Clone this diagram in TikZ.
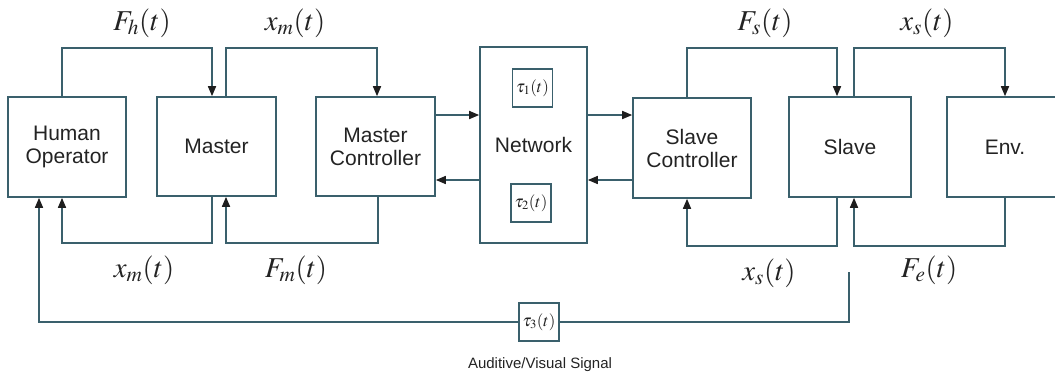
\documentclass[tikz,border=0pt]{standalone}
\usepackage{mathptmx}
\usepackage{fontspec}
\setmainfont{Liberation Sans}
\usetikzlibrary{arrows.meta}
\definecolor{ln}{RGB}{58,96,108}
\definecolor{tx}{RGB}{35,35,35}
\definecolor{ah}{RGB}{30,30,30}
\newcommand{\mylab}[1]{\scalebox{1.2}{$#1$}}
\tikzset{
  blk/.style={draw=ln, line width=1.6pt, fill=white, minimum width=#1, inner sep=0pt, align=center, text=tx, font=\fontsize{21}{23}\selectfont},
  tbox/.style={draw=ln, line width=1.6pt, fill=white, minimum width=40pt, minimum height=38pt, inner sep=0pt, text=tx, font=\fontsize{17}{19}\selectfont},
  wire/.style={ln, line width=1.6pt},
  arr/.style={wire, -{Triangle[length=10pt,width=8pt,color=ah]}},
  lab/.style={text=tx, font=\fontsize{24}{28}\selectfont, inner sep=0pt}
}
\begin{document}
\begin{tikzpicture}[x=1pt,y=-1pt]
\useasboundingbox (0,0) rectangle (1055,380);
\clip (0,0) rectangle (1055,380);
% blocks
\node[blk=118pt, minimum height=100pt] (ho) at (67,147) {Human\\Operator};
\node[blk=119pt, minimum height=99pt] (ma) at (216.5,146.5) {Master};
\node[blk=119pt, minimum height=99pt] (mc) at (375.5,146.5) {Master\\Controller};
\node[blk=107pt, minimum height=196pt] (net) at (533.5,145) {Network};
\node[tbox] (t1) at (532.5,88) {$\tau_1(t)$};
\node[tbox] (t2) at (531,203) {$\tau_2(t)$};
\node[blk=118pt, minimum height=100pt] (sc) at (692,148) {Slave\\Controller};
\node[blk=122pt, minimum height=100pt] (sl) at (850,147) {Slave};
\node[blk=116pt, minimum height=100pt] (env) at (1005,147) {Env.};
% master side loops
\draw[arr] (ho.north -| 62,0) |- (212,48) -- (ma.north -| 212,0);
\draw[arr] (ma.north -| 226,0) |- (377,48) -- (mc.north -| 377,0);
\draw[arr] (ma.south -| 212,0) |- (62,243) -- (ho.south -| 62,0);
\draw[arr] (mc.south -| 378,0) |- (226,243) -- (ma.south -| 226,0);
% network links
\draw[arr] (mc.east |- 0,115) -- (net.west |- 0,115);
\draw[arr] (net.west |- 0,180) -- (mc.east |- 0,180);
\draw[arr] (net.east |- 0,115) -- (sc.west |- 0,115);
\draw[arr] (sc.west |- 0,180) -- (net.east |- 0,180);
% slave side loops
\draw[arr] (sc.north -| 687,0) |- (837,48) -- (sl.north -| 837,0);
\draw[arr] (sl.north -| 854,0) |- (1005,48) -- (env.north);
\draw[arr] (sl.south -| 837,0) |- (687,246) -- (sc.south -| 687,0);
\draw[arr] (env.south) |- (854,246) -- (sl.south -| 854,0);
% auditive/visual feedback
\coordinate (fb) at (849,272);
\node[tbox] (t3) at (539,322) {$\tau_3(t)$};
\draw[wire] (fb) |- (t3.east);
\draw[arr] (t3.west) -| (ho.south -| 39,0);
\node[text=tx, font=\fontsize{15}{17}\selectfont, inner sep=0pt] (avs) at (540,365) {Auditive/Visual Signal};
% labels
\node[lab] (lfh) at (142,23) {\mylab{F_h(t)}};
\node[lab] (lxm1) at (295,23) {\mylab{x_m(t)}};
\node[lab] (lxm2) at (144,270) {\mylab{x_m(t)}};
\node[lab] (lfm) at (296,270) {\mylab{F_m(t)}};
\node[lab] (lfs) at (765,23) {\mylab{F_s(t)}};
\node[lab] (lxs1) at (927,23) {\mylab{x_s(t)}};
\node[lab] (lxs2) at (769,273) {\mylab{x_s(t)}};
\node[lab] (lfe) at (929,270) {\mylab{F_e(t)}};
\end{tikzpicture}
\end{document}
